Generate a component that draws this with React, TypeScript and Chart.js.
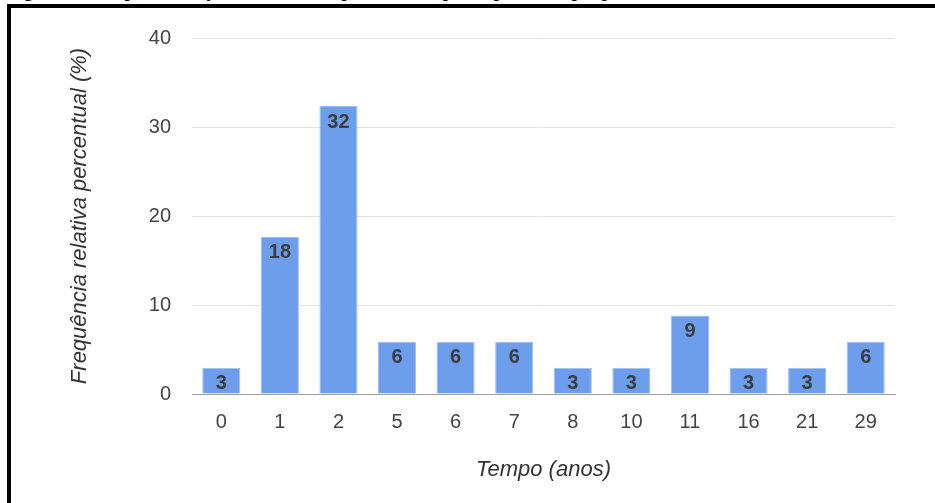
import React, { useEffect, useRef } from "react";
import { Chart, registerables } from "chart.js";

Chart.register(...registerables);

const categories = ["0", "1", "2", "5", "6", "7", "8", "10", "11", "16", "21", "29"];
const values = [2.94, 17.65, 32.35, 5.88, 5.88, 5.88, 2.94, 2.94, 8.82, 2.94, 2.94, 5.88];
const valueLabels = ["3", "18", "32", "6", "6", "6", "3", "3", "9", "3", "3", "6"];
const yTicks = [0, 10, 20, 30, 40];
const caption = "Figura 3 – Tempo de atuação, em anos, dos profissionais participantes da pesquisa";
const xTitle = "Tempo (anos)";
const yTitle = "Frequência relativa percentual (%)";

const FONT = "Arial, 'Liberation Sans', sans-serif";

const barLabels = {
  id: "barLabels",
  afterDatasetsDraw(chart: any) {
    const ctx = chart.ctx;
    const meta = chart.getDatasetMeta(0);
    ctx.save();
    ctx.font = `bold 20px ${FONT}`;
    ctx.fillStyle = "#3c3c3c";
    ctx.textAlign = "center";
    ctx.textBaseline = "middle";
    meta.data.forEach((bar: any, i: number) => {
      ctx.fillText(valueLabels[i], bar.x, bar.y + 16);
    });
    ctx.restore();
  },
};

export default function App() {
  const ref = useRef<HTMLCanvasElement | null>(null);
  useEffect(() => {
    if (!ref.current) return;
    const chart = new Chart(ref.current, {
      type: "bar",
      data: {
        labels: categories,
        datasets: [
          {
            data: values,
            backgroundColor: "#6d9eeb",
            borderColor: "#9fbff2",
            borderWidth: 1,
            categoryPercentage: 1,
            barPercentage: 0.65,
          },
        ],
      },
      options: {
        responsive: false,
        animation: false,
        events: [],
        layout: { padding: { left: 0, right: 40, top: 38, bottom: 0 } },
        plugins: { legend: { display: false }, tooltip: { enabled: false } },
        scales: {
          x: {
            afterFit: (s: any) => {
              s.height = 109;
            },
            grid: { display: false },
            border: { display: true, color: "#9e9e9e", width: 1 },
            ticks: { color: "#444", font: { family: FONT, size: 20 }, padding: 8, maxRotation: 0 },
            title: {
              display: true,
              text: xTitle,
              color: "#333",
              font: { family: FONT, size: 22, style: "italic" },
              padding: { top: 0, bottom: 20 },
            },
          },
          y: {
            min: 0,
            max: 40,
            afterFit: (s: any) => {
              s.width = 192;
            },
            afterBuildTicks: (s: any) => {
              s.ticks = yTicks.map((v) => ({ value: v }));
            },
            grid: {
              drawTicks: false,
              color: (c: any) => (c.tick && c.tick.value === 0 ? "#9e9e9e" : "#e3e3e3"),
            },
            border: { display: false },
            ticks: { color: "#444", font: { family: FONT, size: 20 }, padding: 21 },
            title: {
              display: true,
              text: yTitle,
              color: "#333",
              font: { family: FONT, size: 22, style: "italic" },
              padding: { top: 67, bottom: 0 },
            },
          },
        },
      },
      plugins: [barLabels],
    });
    return () => chart.destroy();
  }, []);

  return (
    <div
      style={{
        position: "fixed",
        left: 0,
        top: 0,
        width: 935,
        height: 503,
        background: "#fff",
        overflow: "hidden",
      }}
    >
      <div
        style={{
          position: "absolute",
          left: 8,
          top: -19.5,
          whiteSpace: "nowrap",
          font: "bold 18px 'Liberation Serif', 'Times New Roman', serif",
          lineHeight: "20px",
          color: "#000",
        }}
      >
        {caption}
      </div>
      <canvas ref={ref} width={935} height={503} style={{ position: "absolute", left: 0, top: 0 }} />
      <div
        style={{
          position: "absolute",
          left: 7,
          top: 4,
          width: 1000,
          height: 600,
          borderTop: "4px solid #000",
          borderLeft: "4px solid #000",
          boxSizing: "border-box",
        }}
      />
    </div>
  );
}
